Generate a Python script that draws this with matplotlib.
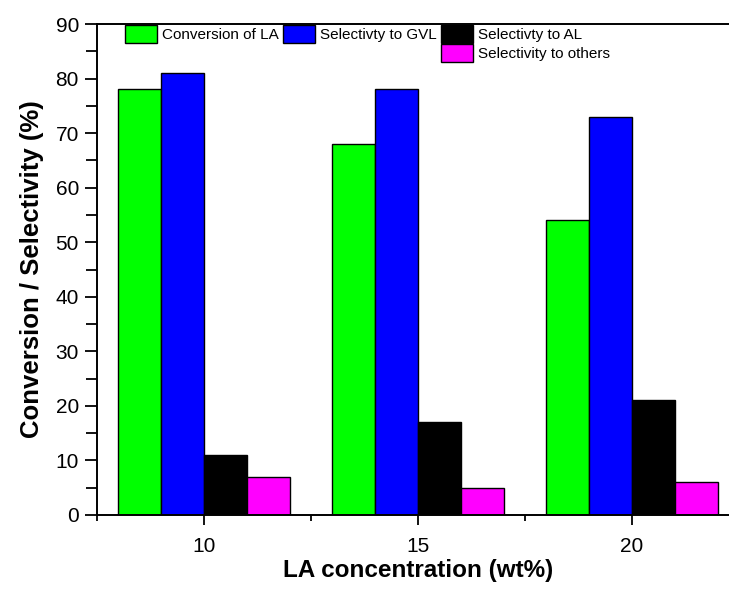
import matplotlib
matplotlib.use("Agg")
import matplotlib.pyplot as plt
from matplotlib.patches import Rectangle
from matplotlib.ticker import MultipleLocator
import numpy as np

plt.rcParams['font.family'] = ['Liberation Sans', 'DejaVu Sans']

concentrations = [10, 15, 20]
series_names = ["Conversion of LA", "Selectivty to GVL", "Selectivty to AL", "Selectivity to others"]
conversion_LA = [78, 68, 54]
selectivity_GVL = [81, 78, 73]
selectivity_AL = [11, 17, 21]
selectivity_others = [7, 5, 6]
colors = ["#00FF00", "#0000FF", "#000000", "#FF00FF"]

fig = plt.figure(figsize=(7.29, 5.92), dpi=100)
W, H = 729, 592
ax = fig.add_axes([97 / W, 1 - 515 / H, (15 * 42.8) / W, (515 - 24) / H])

x = np.array(concentrations, dtype=float)
width = 1.0
offsets = [-1.5, -0.5, 0.5, 1.5]
handles = []
for vals, off, c, name in zip([conversion_LA, selectivity_GVL, selectivity_AL, selectivity_others],
                              offsets, colors, series_names):
    b = ax.bar(x + off, vals, width=width, color=c, edgecolor='black', linewidth=1.0, label=name)
    handles.append(b)

ax.set_xlim(7.5, 22.5)
ax.set_ylim(0, 90)
ax.set_xticks(concentrations)
ax.xaxis.set_minor_locator(MultipleLocator(2.5))
ax.yaxis.set_major_locator(MultipleLocator(10))
ax.yaxis.set_minor_locator(MultipleLocator(5))
ax.tick_params(axis='y', which='major', direction='out', length=9, width=1.3, labelsize=15, pad=4)
ax.tick_params(axis='y', which='minor', direction='out', length=8, width=1.3)
ax.tick_params(axis='x', which='major', direction='out', length=7, width=1.3, labelsize=15, pad=9)
ax.tick_params(axis='x', which='minor', direction='out', length=4, width=1.3)
for s in ax.spines.values():
    s.set_linewidth(1.4)

ax.set_ylabel("Conversion / Selectivity (%)", fontsize=18.5, fontweight='bold', labelpad=8)
ax.set_xlabel("LA concentration (wt%)", fontsize=17.5, fontweight='bold', labelpad=2)

blank = Rectangle((0, 0), 1, 1, fill=False, edgecolor='none', visible=False)
leg_handles = [handles[0], blank, handles[1], blank, handles[2], handles[3]]
leg_labels = [series_names[0], "", series_names[1], "", series_names[2], series_names[3]]
leg = fig.legend(leg_handles, leg_labels, ncol=3, frameon=False,
                 loc='upper left', bbox_to_anchor=(125 / W, 1 - 25 / H),
                 fontsize=11, handlelength=2.1, handleheight=1.4,
                 handletextpad=0.3, columnspacing=0.3, labelspacing=0.12,
                 borderpad=0, borderaxespad=0)
for p in leg.get_patches():
    p.set_linewidth(1.0)

fig.savefig("out.png", dpi=100)
